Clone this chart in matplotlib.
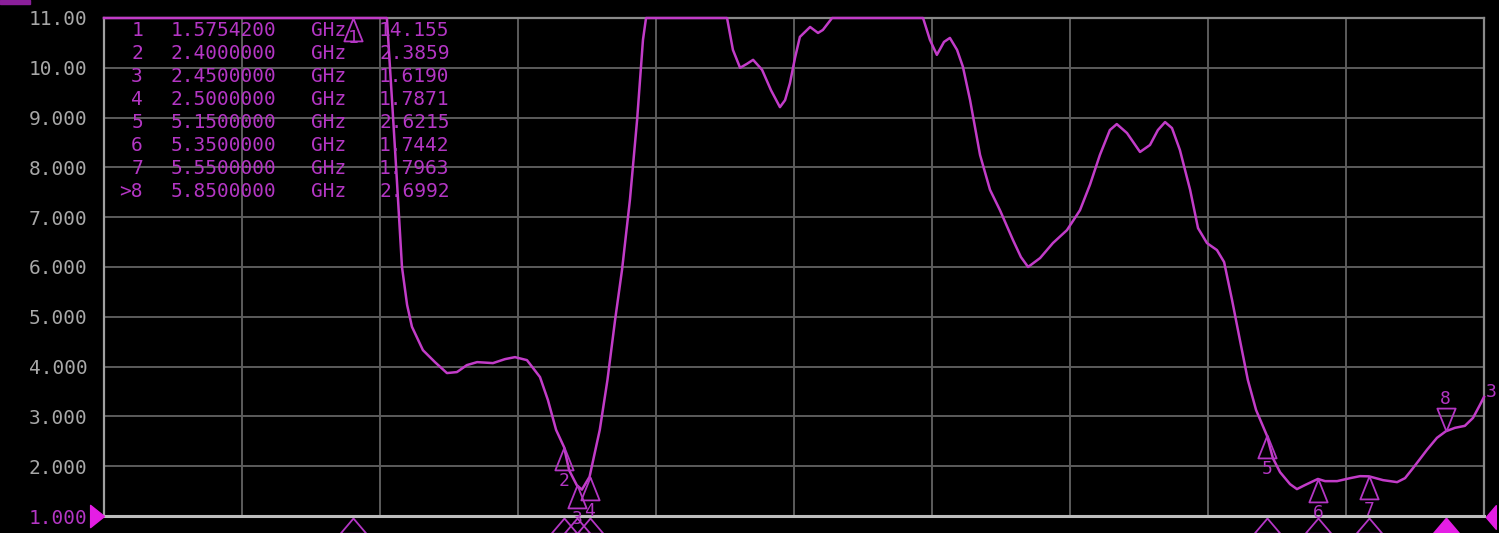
import numpy as np
import matplotlib
matplotlib.use("Agg")
import matplotlib.pyplot as plt
from matplotlib.path import Path

# ---------------- data ----------------
freq_ghz = [0.600, 0.976, 1.367, 1.57542, 1.680, 1.707, 1.727, 1.746, 1.766, 1.786,
            1.805, 1.848, 1.895, 1.942, 1.981, 2.020, 2.060, 2.122, 2.169, 2.208,
            2.255, 2.306, 2.337, 2.369, 2.400, 2.420, 2.450, 2.470, 2.500, 2.540,
            2.570, 2.600, 2.627, 2.658, 2.686, 2.709, 2.721, 2.800, 2.900, 3.000,
            3.038, 3.061, 3.089, 3.116, 3.140, 3.175, 3.210, 3.245, 3.265, 3.284,
            3.304, 3.323, 3.363, 3.394, 3.413, 3.449, 3.550, 3.650, 3.750, 3.805,
            3.832, 3.859, 3.887, 3.910, 3.938, 3.961, 3.989, 4.028, 4.067, 4.106,
            4.157, 4.188, 4.216, 4.263, 4.313, 4.368, 4.419, 4.458, 4.497, 4.536,
            4.563, 4.603, 4.654, 4.693, 4.724, 4.752, 4.779, 4.810, 4.850, 4.881,
            4.916, 4.955, 4.983, 5.014, 5.045, 5.076, 5.108, 5.150, 5.174, 5.202,
            5.241, 5.268, 5.299, 5.350, 5.378, 5.425, 5.476, 5.515, 5.550, 5.605,
            5.660, 5.691, 5.722, 5.777, 5.816, 5.850, 5.886, 5.925, 5.957, 5.984,
            6.000]
vswr = [25.0, 20.0, 16.0, 14.155, 12.0, 11.0, 9.35, 7.75, 6.00, 5.24,
        4.80, 4.33, 4.09, 3.87, 3.89, 4.03, 4.09, 4.07, 4.15, 4.19,
        4.13, 3.79, 3.33, 2.73, 2.3859, 1.92, 1.6190, 1.53, 1.7871, 2.73,
        3.73, 4.94, 5.94, 7.35, 8.95, 10.56, 11.2, 13.0, 12.5, 11.8,
        11.0, 10.36, 10.00, 10.08, 10.16, 9.96, 9.55, 9.21, 9.35, 9.69,
        10.20, 10.62, 10.82, 10.70, 10.76, 11.2, 12.5, 12.8, 11.9, 11.0,
        10.56, 10.26, 10.52, 10.60, 10.36, 10.02, 9.35, 8.25, 7.55, 7.14,
        6.54, 6.20, 6.00, 6.18, 6.48, 6.74, 7.14, 7.65, 8.25, 8.75,
        8.87, 8.69, 8.31, 8.45, 8.75, 8.91, 8.79, 8.35, 7.55, 6.78,
        6.48, 6.34, 6.10, 5.34, 4.53, 3.73, 3.13, 2.6215, 2.16, 1.88,
        1.64, 1.54, 1.62, 1.7442, 1.70, 1.70, 1.76, 1.80, 1.7963, 1.72,
        1.68, 1.76, 1.96, 2.33, 2.57, 2.6992, 2.77, 2.81, 2.97, 3.23,
        3.39]

marker_ids = ["1", "2", "3", "4", "5", "6", "7", ">8"]
marker_freq = [1.57542, 2.40, 2.45, 2.50, 5.15, 5.35, 5.55, 5.85]
marker_freq_text = ["1.5754200", "2.4000000", "2.4500000", "2.5000000",
                    "5.1500000", "5.3500000", "5.5500000", "5.8500000"]
marker_vswr = [14.155, 2.3859, 1.6190, 1.7871, 2.6215, 1.7442, 1.7963, 2.6992]
marker_vswr_text = ["14.155", "2.3859", "1.6190", "1.7871", "2.6215", "1.7442", "1.7963", "2.6992"]

y_ticks = [1, 2, 3, 4, 5, 6, 7, 8, 9, 10, 11]
y_labels = ["1.000", "2.000", "3.000", "4.000", "5.000", "6.000", "7.000",
            "8.000", "9.000", "10.00", "11.00"]
f_start, f_stop = 0.6, 6.0
y_min, y_max = 1.0, 11.0

# ---------------- style ----------------
W, H = 1499, 533
BG = "black"
TRACE = "#c23cc8"
MTEXT = "#b436c4"
BRIGHT = "#e41ee4"
GRID = "#5c5c5c"
LABEL = "#a8a8a8"
FONT = "DejaVu Sans Mono"

fig = plt.figure(figsize=(W / 100, H / 100), dpi=100, facecolor=BG)
L, R, T, B = 104, 1484, 18, 516
ax = fig.add_axes([L / W, (H - B) / H, (R - L) / W, (B - T) / H], facecolor=BG)
ax.set_xlim(f_start, f_stop)
ax.set_ylim(y_min, y_max)

# grid
ax.set_xticks(np.linspace(f_start, f_stop, 11))
ax.set_xticklabels([])
ax.set_yticks(y_ticks)
ax.set_yticklabels(y_labels, fontfamily=FONT, fontsize=14, color=LABEL)
ax.tick_params(axis="both", length=0, pad=12)
ax.grid(True, color=GRID, linewidth=1.4)
ax.get_yticklabels()[0].set_color(MTEXT)
ax.spines["top"].set_color("#8a8a8a")
ax.spines["top"].set_linewidth(1.6)
ax.spines["right"].set_color("#8a8a8a")
ax.spines["right"].set_linewidth(1.6)
ax.spines["left"].set_color("#a0a0a0")
ax.spines["left"].set_linewidth(1.6)
ax.spines["bottom"].set_color("#bdbdbd")
ax.spines["bottom"].set_linewidth(2.2)

# trace (instrument clamps values to display top)
ax.plot(freq_ghz, np.clip(vswr, y_min, y_max), color=TRACE, linewidth=1.8,
        clip_on=False, zorder=5, solid_joinstyle="round")

# on-trace marker triangles
up_tri = Path([(0, 0), (-0.40, -1), (0.40, -1), (0, 0)])
down_tri = Path([(0, 0), (-0.40, 1), (0.40, 1), (0, 0)])
for i, (mid, mf, mv) in enumerate(zip(marker_ids, marker_freq, marker_vswr)):
    yv = min(mv, y_max)
    num = mid.lstrip(">")
    if num == "8":
        ax.plot([mf], [yv], marker=down_tri, markersize=33, markerfacecolor="none",
                markeredgecolor=MTEXT, markeredgewidth=1.3, clip_on=False, zorder=6)
        ax.annotate(num, (mf, yv), xytext=(0, 32), textcoords="offset pixels",
                    ha="center", va="center", color=MTEXT, fontsize=13, fontfamily=FONT,
                    annotation_clip=False, zorder=6)
    else:
        ax.plot([mf], [yv], marker=up_tri, markersize=33, markerfacecolor="none",
                markeredgecolor=MTEXT, markeredgewidth=1.3, clip_on=False, zorder=6)
        off = -20 if num == "1" else -34
        ax.annotate(num, (mf, yv), xytext=(0, off), textcoords="offset pixels",
                    ha="center", va="center", color=MTEXT, fontsize=13, fontfamily=FONT,
                    annotation_clip=False, zorder=6)

# bottom stimulus markers
bot_tri = Path([(0, 0), (-0.85, -1), (0.85, -1), (0, 0)])
for mid, mf in zip(marker_ids, marker_freq):
    active = mid.startswith(">")
    ax.plot([mf], [y_min - 1.5 / 49.8], marker=bot_tri, markersize=22,
            markerfacecolor=BRIGHT if active else "none",
            markeredgecolor=BRIGHT if active else MTEXT, markeredgewidth=1.3,
            clip_on=False, zorder=6)

# reference level arrows
ax.plot([f_start], [y_min], marker=Path([(0, 0), (-1, 0.8), (-1, -0.8), (0, 0)]),
        markersize=20, color=BRIGHT, clip_on=False, zorder=7)
ax.plot([f_stop], [y_min - 1.0 / 49.8],
        marker=Path([(0.15, 0), (1.0, 1.0), (1.0, -1.0), (0.15, 0)]),
        markersize=17, color=BRIGHT, clip_on=False, zorder=7)

# marker table (figure pixel positions)
def fx(x):
    return x / W

def fy(y):
    return 1 - y / H

for i in range(len(marker_ids)):
    yy = fy(31 + 22.9 * i)
    fig.text(fx(143), yy, marker_ids[i], ha="right", va="center", color=MTEXT,
             fontsize=14, fontfamily=FONT)
    fig.text(fx(171), yy, marker_freq_text[i], ha="left", va="center", color=MTEXT,
             fontsize=14, fontfamily=FONT)
    fig.text(fx(311), yy, "GHz", ha="left", va="center", color=MTEXT,
             fontsize=14, fontfamily=FONT)
    fig.text(fx(379), yy, marker_vswr_text[i], ha="left", va="center", color=MTEXT,
             fontsize=14, fontfamily=FONT)

# trace label at right end
fig.text(fx(1491), fy(392), "3", ha="center", va="center", color=MTEXT,
         fontsize=13, fontfamily=FONT)
# corner tab
fig.patches.append(plt.Rectangle((0, fy(4)), fx(30), fy(0) - fy(4), transform=fig.transFigure,
                                 color="#8a1f9a", zorder=0))

fig.savefig("out.png", dpi=100, facecolor=BG)
